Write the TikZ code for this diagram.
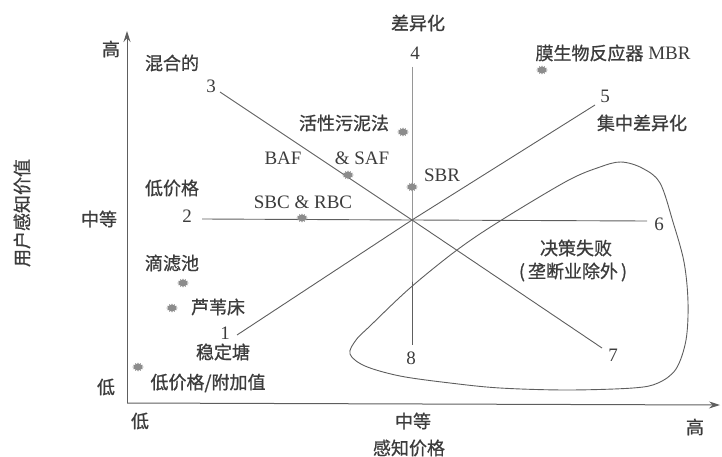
\documentclass[tikz,border=0pt]{standalone}
\usepackage{fontspec}
\setmainfont{Liberation Serif}
\newfontfamily\cjk{Noto Sans CJK SC}[FakeBold=0.9]
\usetikzlibrary{shapes.geometric,arrows.meta}
\definecolor{txt}{HTML}{3C3C3C}
\definecolor{lnc}{HTML}{5E5E5E}
\definecolor{mkc}{HTML}{8C8C8C}
\begin{document}
\begin{tikzpicture}[x=1pt,y=-1pt,
  lbl/.style={font=\cjk\fontsize{18}{20}\selectfont, text=txt, inner sep=0pt},
  lat/.style={font=\fontsize{19}{21}\selectfont, text=txt, inner sep=0pt},
  mk/.style={star, star points=12, star point ratio=1.6, minimum size=9pt, xscale=1.3, inner sep=0pt, fill=mkc, draw=none},
  ln/.style={draw=lnc, line width=0.9pt},
  axis/.style={draw=lnc, line width=1pt, -{Stealth[length=11pt,width=7pt]}}]
\useasboundingbox (0,0) rectangle (722,457);
% axes
\coordinate (o) at (127,403);
\coordinate (ytip) at (127,31);
\coordinate (xtip) at (720,405);
\draw[axis] (o) -- (ytip);
\draw[axis] (o) -- (xtip);
% axis labels
\node[lbl] (yh) at (111,49) {高};
\node[lbl] (ym) at (99,219) {中等};
\node[lbl] (yl) at (106,387) {低};
\node[lbl] (xl) at (140,421) {低};
\node[lbl] (xm) at (413,421) {中等};
\node[lbl] (xh) at (695,427) {高};
\node[lbl] (xt) at (409,448) {感知价格};
\node[lbl, rotate=90] (yt) at (22,213) {用户感知价值};
% strategy lines
\coordinate (c) at (412,220);
\coordinate (e1) at (237,335);
\coordinate (e2) at (202,219);
\coordinate (e3) at (220,92);
\coordinate (e4) at (412,67);
\coordinate (e5) at (595,105);
\coordinate (e6) at (647,221);
\coordinate (e7) at (602,348);
\coordinate (e8) at (412,345);
\draw[ln] (e1) -- (c) -- (e5);
\draw[ln] (e2) -- (c) -- (e6);
\draw[ln] (e3) -- (c) -- (e7);
\draw[ln] (e4) -- (c) -- (e8);
% numbers
\node[lat] (n1) at (225,333) {1};
\node[lat] (n2) at (187,216) {2};
\node[lat] (n3) at (211,86) {3};
\node[lat] (n4) at (415,53) {4};
\node[lat] (n5) at (605,96) {5};
\node[lat] (n6) at (659,224) {6};
\node[lat] (n7) at (613,355) {7};
\node[lat] (n8) at (411,358) {8};
% failure region
\draw[ln] plot[smooth cycle, tension=0.55] coordinates {
 (350,354) (356,340) (370,326) (410,288) (457,250) (500,221) (567,181)
 (600,167) (621,162) (642,168) (660,183) (673,222) (684,262) (688,302)
 (686,340) (676,369) (658,383) (633,388) (567,390) (500,388) (450,383)
 (400,376) (365,366)};
% strategy names
\node[lbl] (hun) at (172,63) {混合的};
\node[lbl] (dj) at (172,188) {低价格};
\node[lbl] (cy) at (418,23) {差异化};
\node[lbl] (jz) at (642,123) {集中差异化};
\node[lbl] (jc) at (576,248) {决策失败};
\node[lbl] (lb) at (573,272) {(\,垄断业除外\,)};
\node[lbl] (dfj) at (208,383) {低价格/附加值};
% processes
\node[lbl] (hx) at (344,123) {活性污泥法};
\node[lat] (baf) at (283,158) {BAF};
\node[lat] (saf) at (362,158) {\& SAF};
\node[lat] (sbc) at (303,202) {SBC \& RBC};
\node[lat] (sbr) at (442,175) {SBR};
\node[anchor=center, inner sep=0pt] (mbr) at (613,53) {\cjk\fontsize{18}{20}\selectfont\color{txt}膜生物反应器\fontspec{Liberation Serif}\fontsize{19}{21}\selectfont\ MBR};
\node[lbl] (dl) at (172,263) {滴滤池};
\node[lbl] (lw) at (218,307) {芦苇床};
\node[lbl] (wd) at (223,352) {稳定塘};
% markers
\node[mk] (m1) at (403,132) {};
\node[mk] (m2) at (348,175) {};
\node[mk] (m3) at (412,187) {};
\node[mk] (m4) at (302,218) {};
\node[mk] (m5) at (542,70) {};
\node[mk] (m6) at (183,283) {};
\node[mk] (m7) at (172,308) {};
\node[mk] (m8) at (138,367) {};
\end{tikzpicture}
\end{document}
